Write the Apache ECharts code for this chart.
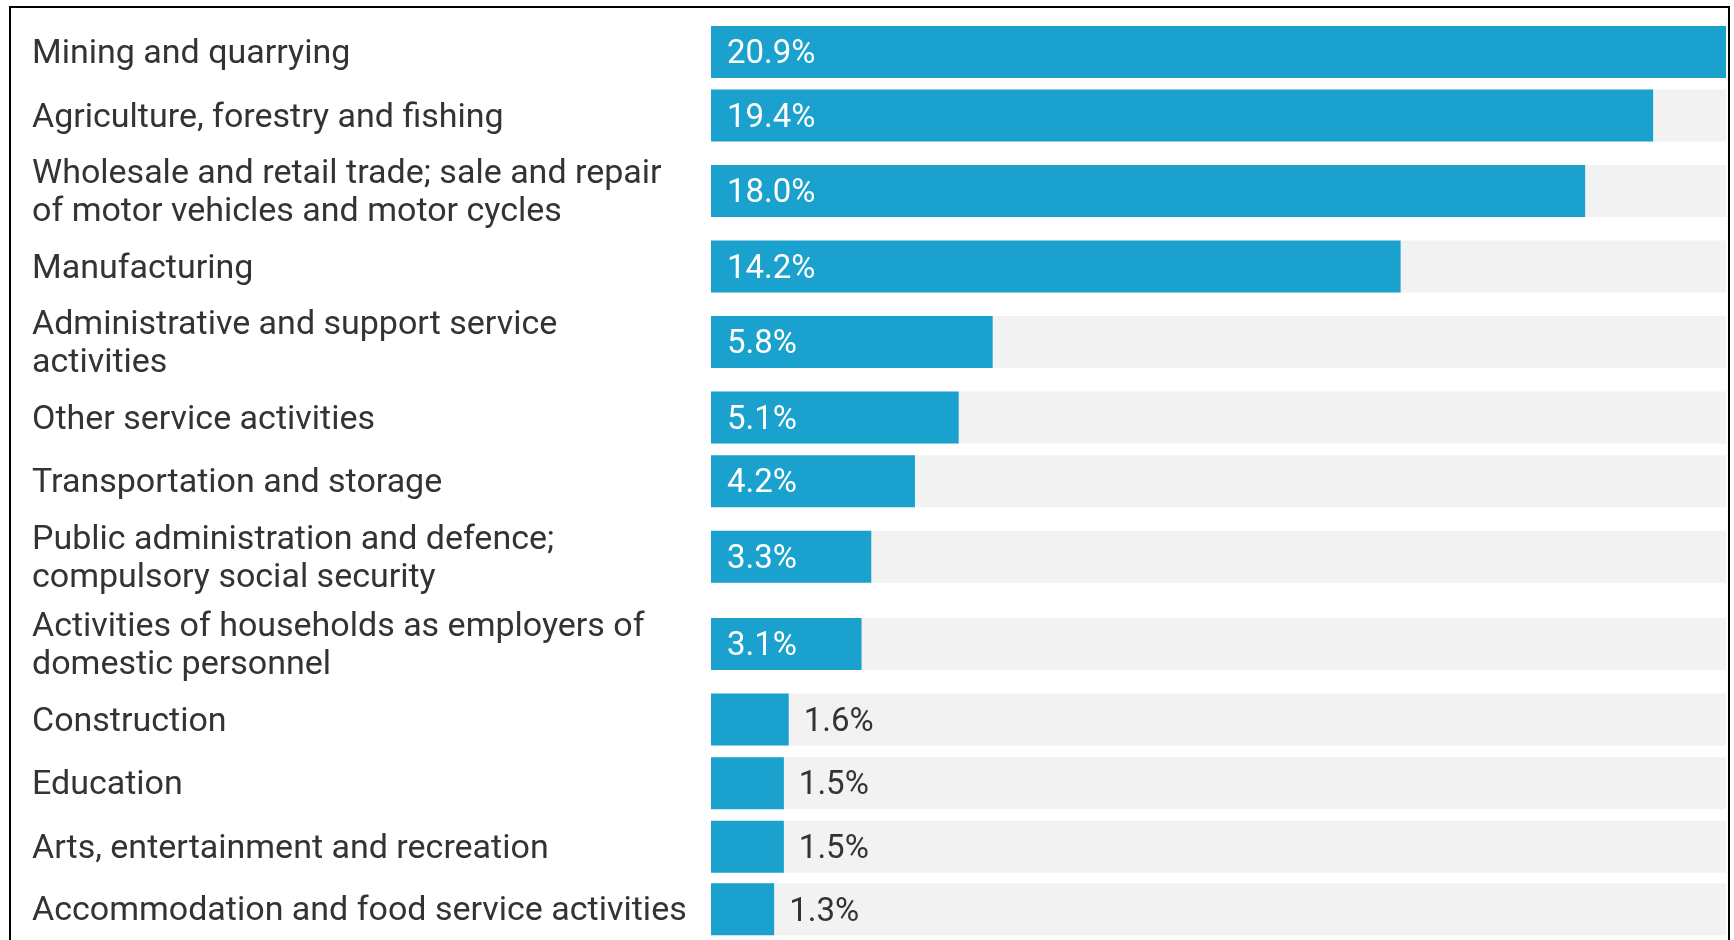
<!DOCTYPE html>
<html>
<head>
<meta charset="utf-8">
<script src="https://cdn.jsdelivr.net/npm/echarts@6/dist/echarts.min.js"></script>
<style>
  html, body { margin: 0; padding: 0; background: #fff; }
  #chart { width: 1734px; height: 940px; }
</style>
</head>
<body>
<div id="chart"></div>
<script>
// industries, top to bottom
var categories = [
    'Mining and quarrying',
    'Agriculture, forestry and fishing',
    'Wholesale and retail trade; sale and repair\nof motor vehicles and motor cycles',
    'Manufacturing',
    'Administrative and support service\nactivities',
    'Other service activities',
    'Transportation and storage',
    'Public administration and defence;\ncompulsory social security',
    'Activities of households as employers of\ndomestic personnel',
    'Construction',
    'Education',
    'Arts, entertainment and recreation',
    'Accommodation and food service activities'
];
var shares = [20.9, 19.4, 18.0, 14.2, 5.8, 5.1, 4.2, 3.3, 3.1, 1.6, 1.5, 1.5, 1.3];
var axisMax = 20.9;

var blue = '#1aa1cd';
var track = '#f2f2f2';
var textColor = '#333';

var myChart = echarts.init(document.getElementById('chart'));

var plotLeft = 711;
var plotRight = 8;
var oneLine = 63.6, twoLines = 87.4;
var rowTop = 20.2;

var grids = [], xAxes = [], yAxes = [], series = [];
categories.forEach(function (name, i) {
    var h = name.indexOf('\n') >= 0 ? twoLines : oneLine;
    // label box sits a few px lower than the bar centre in the original
    grids.push({ left: plotLeft, right: plotRight, top: rowTop, height: h });
    rowTop += h;
    xAxes.push({
        gridIndex: i, type: 'value', min: 0, max: axisMax, show: false
    });
    yAxes.push({
        gridIndex: i,
        type: 'category',
        data: [name],
        axisLine: { show: false },
        axisTick: { show: false },
        axisLabel: {
            align: 'left',
            margin: plotLeft - 32,
            color: textColor,
            fontFamily: 'Roboto',
            fontSize: 34,
            lineHeight: 38,
            formatter: function (v) {
                return v.split('\n').map(function (s) { return '{t|' + s + '}'; }).join('\n');
            },
            rich: {
                t: {
                    fontSize: 34,
                    lineHeight: 38,
                    color: textColor,
                    fontFamily: 'Roboto',
                    padding: [5, 0, 0, 0]
                }
            }
        }
    });
    var inside = shares[i] > 2;
    series.push({
        type: 'bar',
        xAxisIndex: i,
        yAxisIndex: i,
        barWidth: 52,
        showBackground: true,
        backgroundStyle: { color: track },
        itemStyle: { color: blue },
        label: {
            show: true,
            position: inside ? 'insideLeft' : 'right',
            distance: inside ? 16 : 15,
            offset: [0, 3],
            color: inside ? '#fff' : textColor,
            fontSize: 33,
            fontFamily: 'Roboto',
            formatter: function (p) { return p.value.toFixed(1) + '%'; }
        },
        data: [shares[i]],
        animation: false
    });
});

var option = {
    backgroundColor: '#fff',
    grid: grids,
    xAxis: xAxes,
    yAxis: yAxes,
    series: series,
    graphic: [{
        type: 'rect',
        shape: { x: 10, y: 7, width: 1719, height: 1000 },
        style: { fill: null, stroke: '#000', lineWidth: 2 }
    }]
};
myChart.setOption(option);
</script>
</body>
</html>
